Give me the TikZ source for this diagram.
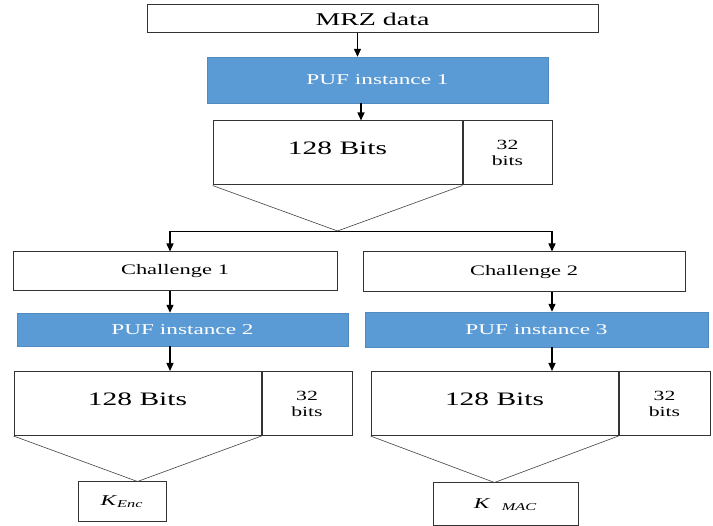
\documentclass[tikz,border=0pt]{standalone}
\usepackage{fontspec}
\usepackage{graphicx}
\setmainfont{Liberation Serif}
\usetikzlibrary{arrows.meta}
\definecolor{pufblue}{HTML}{5B9BD5}
\newcommand{\hs}[1]{\scalebox{1.55}[1]{#1}}

\begin{document}
\begin{tikzpicture}[x=1pt, y=-1pt,
        box/.style={draw=black!80, line width=1pt, fill=white, inner sep=0pt},
        puf/.style={draw=pufblue!90!black, line width=0.4pt, fill=pufblue, text=white, inner sep=0pt, font=\fontsize{15}{15}\selectfont},
        bitsbox/.style={box, minimum width=247pt, minimum height=64pt, text depth=9pt, font=\fontsize{19}{19}\selectfont},
        tagbox/.style={box, minimum width=90pt, minimum height=64pt, align=center, font=\fontsize{14}{16}\selectfont},
        chal/.style={box, minimum height=39pt, font=\fontsize{14.5}{14.5}\selectfont},
        keybox/.style={box, minimum height=40pt, font=\fontsize{15}{15}\selectfont},
        arrow/.style={->, >={Triangle[length=8pt,width=7pt]}, line width=1.3pt},
        fan/.style={draw=black!75, line width=0.6pt}
    ]
    \useasboundingbox (0,0) rectangle (713,526);

    % MRZ data -> first PUF
    \node[box, minimum width=451pt, minimum height=28pt, font=\fontsize{18}{18}\selectfont] (mrz) at (372.5,19) {\hs{MRZ data}};
    \node[puf, minimum width=341pt, minimum height=46pt] (puf1) at (377.5,80) {\hs{PUF instance 1}};
    \node[bitsbox, minimum width=249pt] (bits1) at (337.5,153) {\hs{128 Bits}};
    \node[tagbox, anchor=west, minimum width=89pt] (tag1) at (bits1.east) {\hs{32}\\\hs{bits}};

    \coordinate (sa) at (357.5,0);
    \coordinate (sb) at (361,0);
    \coordinate (lb) at (170,231);
    \coordinate (rb) at (552,231);
    \coordinate (ap) at (bits1.south |- lb);

    \draw[arrow] (mrz.south -| sa) -- (puf1.north -| sa);
    \draw[arrow] (puf1.south -| sb) -- (bits1.north -| sb);
    \draw[fan] (bits1.south west) -- (ap) -- (bits1.south east);
    \draw[line width=0.8pt] (lb) -- (rb);

    % left branch
    \node[chal, minimum width=324pt] (ch1) at (175,271.5) {\hs{Challenge 1}};
    \node[puf, minimum width=331pt, minimum height=33pt] (puf2) at (182.5,329.5) {\hs{PUF instance 2}};
    \node[bitsbox] (bits2) at (137.5,403.5) {\hs{128 Bits}};
    \node[tagbox, anchor=west] (tag2) at (bits2.east) {\hs{32}\\\hs{bits}};
    \node[keybox, minimum width=88pt] (kenc) at (122,502) {\hs{\textit{K}\textsubscript{\textit{Enc}}}};
    \coordinate (ka) at (bits2.south |- kenc.north);

    \draw[arrow] (lb) -- (lb |- ch1.north);
    \draw[arrow] (lb |- ch1.south) -- (lb |- puf2.north);
    \draw[arrow] (lb |- puf2.south) -- (lb |- bits2.north);
    \draw[fan] (bits2.south west) -- (ka) -- (bits2.south east);

    % right branch
    \node[chal, minimum width=322pt, minimum height=40pt] (ch2) at (524,272) {\hs{Challenge 2}};
    \node[puf, minimum width=343pt, minimum height=35pt] (puf3) at (536.5,329.5) {\hs{PUF instance 3}};
    \node[bitsbox] (bits3) at (494.5,403.5) {\hs{128 Bits}};
    \node[tagbox, anchor=west, minimum width=91pt] (tag3) at (bits3.east) {\hs{32}\\\hs{bits}};
    \node[keybox, minimum width=145pt, minimum height=43pt] (kmac) at (505.5,504.5) {\hs{\textit{K}\textsubscript{\hspace{0.7em}\textit{MAC}}}\hspace{28pt}};
    \coordinate (kb) at (bits3.south |- kmac.north);

    \draw[arrow] (rb) -- (rb |- ch2.north);
    \draw[arrow] (rb |- ch2.south) -- (rb |- puf3.north);
    \draw[arrow] (rb |- puf3.south) -- (rb |- bits3.north);
    \draw[fan] (bits3.south west) -- (kb) -- (bits3.south east);

\end{tikzpicture}
\end{document}
